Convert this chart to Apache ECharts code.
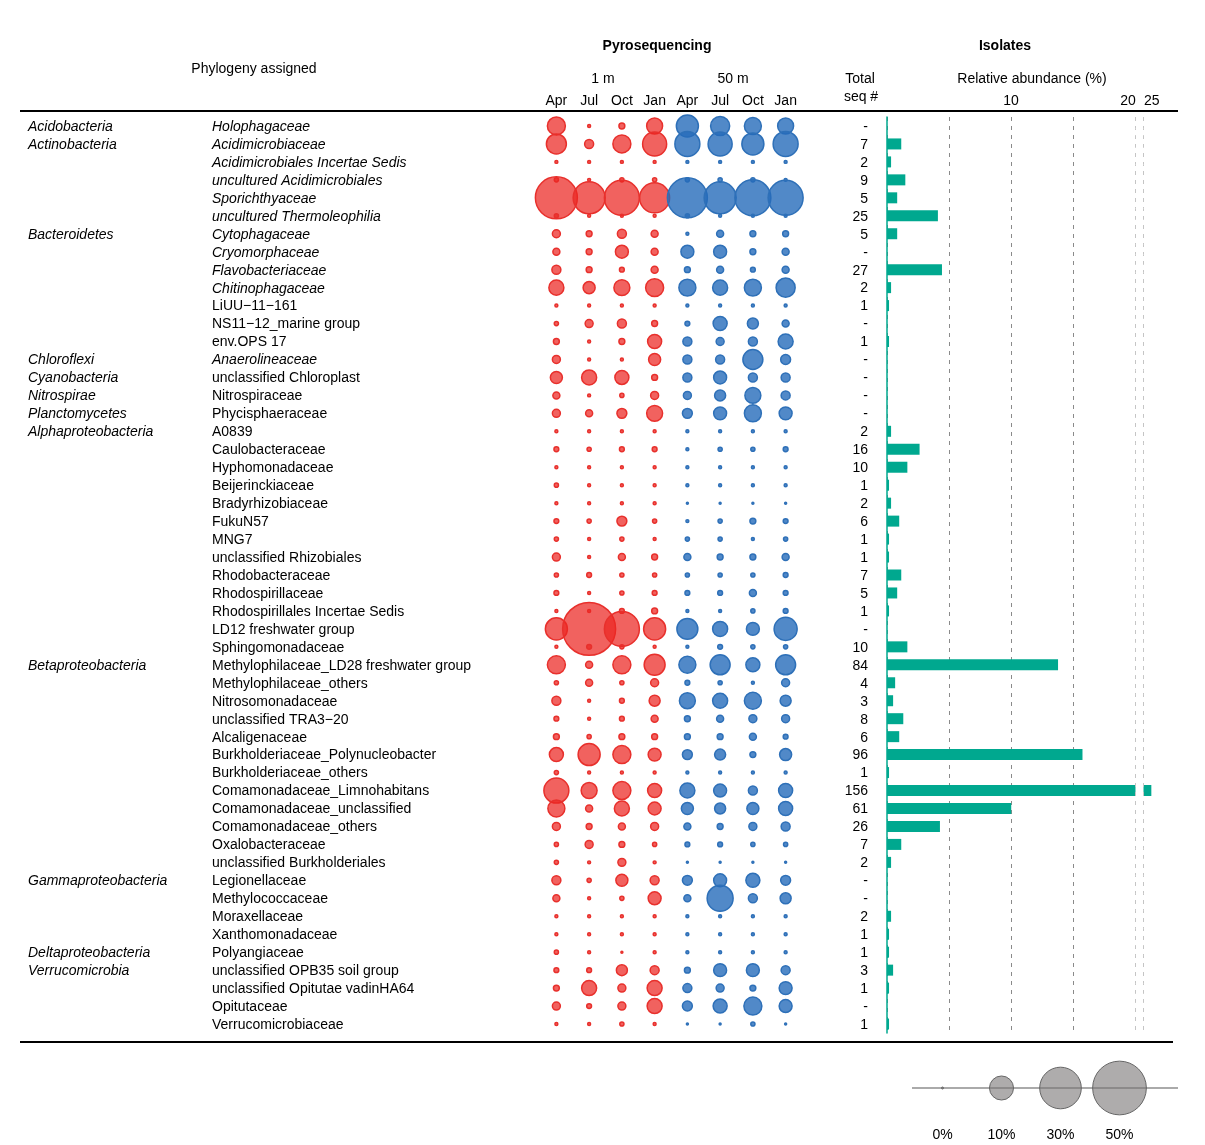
<!DOCTYPE html>
<html><head><meta charset="utf-8">
<script src="https://cdn.jsdelivr.net/npm/echarts@6.0.0/dist/echarts.min.js"></script>
<style>html,body{margin:0;padding:0;background:#fff}#c{width:1205px;height:1145px}</style>
</head><body><div id="c"></div><script>
// ---------- DATA ----------
const families = ['Holophagaceae','Acidimicrobiaceae','Acidimicrobiales Incertae Sedis','uncultured Acidimicrobiales','Sporichthyaceae','uncultured Thermoleophilia','Cytophagaceae','Cryomorphaceae','Flavobacteriaceae','Chitinophagaceae','LiUU\u221211\u2212161','NS11\u221212_marine group','env.OPS 17','Anaerolineaceae','unclassified Chloroplast','Nitrospiraceae','Phycisphaeraceae','A0839','Caulobacteraceae','Hyphomonadaceae','Beijerinckiaceae','Bradyrhizobiaceae','FukuN57','MNG7','unclassified Rhizobiales','Rhodobacteraceae','Rhodospirillaceae','Rhodospirillales Incertae Sedis','LD12 freshwater group','Sphingomonadaceae','Methylophilaceae_LD28 freshwater group','Methylophilaceae_others','Nitrosomonadaceae','unclassified TRA3\u221220','Alcaligenaceae','Burkholderiaceae_Polynucleobacter','Burkholderiaceae_others','Comamonadaceae_Limnohabitans','Comamonadaceae_unclassified','Comamonadaceae_others','Oxalobacteraceae','unclassified Burkholderiales','Legionellaceae','Methylococcaceae','Moraxellaceae','Xanthomonadaceae','Polyangiaceae','unclassified OPB35 soil group','unclassified Opitutae vadinHA64','Opitutaceae','Verrucomicrobiaceae'];
const phyla = ['Acidobacteria','Actinobacteria','','','','','Bacteroidetes','','','','','','','Chloroflexi','Cyanobacteria','Nitrospirae','Planctomycetes','Alphaproteobacteria','','','','','','','','','','','','','Betaproteobacteria','','','','','','','','','','','','Gammaproteobacteria','','','','Deltaproteobacteria','Verrucomicrobia','','',''];
const italicFamilies = ['Holophagaceae','Acidimicrobiaceae','Acidimicrobiales Incertae Sedis','uncultured Acidimicrobiales','Sporichthyaceae','uncultured Thermoleophilia','Cytophagaceae','Cryomorphaceae','Flavobacteriaceae','Chitinophagaceae','Anaerolineaceae'];
const months = ['Apr','Jul','Oct','Jan'];
const depths = ['1 m','50 m'];
// relative abundance (%) in pyrosequencing libraries
const apr1m = [5.6,6.9,0.15,0.3,30.5,0.3,1.1,0.85,1.4,3.9,0.15,0.3,0.6,1.1,2.5,0.85,1.1,0.15,0.4,0.15,0.3,0.15,0.4,0.3,1.1,0.3,0.4,0.15,8.4,0.15,5.6,0.3,1.4,0.4,0.6,3.4,0.3,10.8,5.0,1.1,0.3,0.3,1.4,0.85,0.15,0.15,0.3,0.4,0.6,1.1,0.15];
const jul1m = [0.15,1.4,0.15,0.15,17.7,0.15,0.6,0.6,0.6,2.5,0.15,1.1,0.15,0.15,3.9,0.15,0.85,0.15,0.3,0.15,0.15,0.15,0.3,0.15,0.15,0.4,0.15,0.15,48.6,0.4,0.85,0.85,0.15,0.15,0.3,8.4,0.15,4.4,0.85,0.6,1.1,0.15,0.3,0.15,0.15,0.15,0.15,0.4,3.9,0.4,0.15];
const oct1m = [0.6,5.6,0.15,0.3,21.2,0.15,1.4,2.9,0.4,4.4,0.15,1.4,0.6,0.15,3.4,0.3,1.7,0.15,0.4,0.15,0.15,0.15,1.7,0.3,0.85,0.3,0.3,0.4,21.2,0.3,5.6,0.3,0.4,0.4,0.6,5.6,0.15,5.6,3.9,0.85,0.6,1.1,2.5,0.3,0.15,0.15,0.05,2.1,1.1,1.1,0.3];
const jan1m = [4.4,10,0.15,0.3,15.6,0.15,0.85,0.85,0.85,5.6,0.15,0.6,3.4,2.5,0.6,1.1,4.4,0.15,0.4,0.15,0.15,0.15,0.3,0.15,0.6,0.3,0.4,0.6,8.4,0.15,7.6,1.1,2.1,0.85,0.6,2.9,0.15,3.4,2.9,1.1,0.3,0.15,1.4,2.9,0.15,0.15,0.15,1.4,3.9,3.9,0.15];
const apr50m = [8.4,10.8,0.15,0.3,27.7,0.3,0.15,2.9,0.6,5.0,0.15,0.4,1.4,1.4,1.4,1.1,1.7,0.15,0.15,0.15,0.15,0.05,0.15,0.3,0.85,0.3,0.4,0.15,7.6,0.15,5.0,0.4,4.4,0.6,0.6,1.7,0.15,3.9,2.5,0.85,0.4,0.05,1.7,0.85,0.15,0.15,0.15,0.6,1.4,1.7,0.05];
const jul50m = [6.3,10,0.15,0.3,17.7,0.15,0.85,2.9,0.85,3.9,0.15,3.4,1.1,1.4,2.9,2.1,2.9,0.15,0.3,0.15,0.15,0.05,0.3,0.3,0.6,0.3,0.4,0.15,3.9,0.4,6.9,0.3,3.9,0.85,0.6,2.1,0.15,2.9,2.1,0.6,0.4,0.05,2.9,11.7,0.15,0.15,0.15,2.9,1.1,3.4,0.05];
const oct50m = [5.0,8.4,0.15,0.3,22.4,0.15,0.6,0.6,0.4,5.0,0.15,2.1,1.4,6.9,1.4,4.4,5.0,0.15,0.3,0.15,0.15,0.05,0.6,0.15,0.6,0.3,0.85,0.3,2.9,0.3,3.4,0.15,5.0,1.1,0.85,0.6,0.15,1.4,2.5,1.1,0.3,0.05,3.4,1.4,0.15,0.15,0.15,2.9,0.6,5.6,0.3];
const jan50m = [4.4,10.8,0.15,0.15,21.2,0.15,0.6,0.85,0.85,6.3,0.15,0.85,3.9,1.7,1.4,1.4,2.9,0.15,0.4,0.15,0.15,0.05,0.4,0.3,0.85,0.4,0.4,0.4,9.2,0.3,6.9,1.1,2.1,1.1,0.4,2.5,0.15,3.4,3.4,1.4,0.3,0.05,1.7,2.1,0.15,0.15,0.15,1.4,2.9,2.9,0.05];
// isolates: total sequence number per family (null = '-')
const isolateCounts = [null,7,2,9,5,25,5,null,27,2,1,null,1,null,null,null,null,2,16,10,1,2,6,1,1,7,5,1,null,10,84,4,3,8,6,96,1,156,61,26,7,2,null,null,2,1,1,3,1,null,1];
const abundanceTicks = [10,20,25];
const legendPct = [0,10,30,50];

// ---------- BUILD ----------
const FONT = 'Liberation Sans, Arial, sans-serif';
const sz = v => Math.max(2, 7.6 * Math.sqrt(v));
const samples = [];
depths.forEach(d => months.forEach(m => samples.push(m + '|' + d)));
const redCols = [apr1m, jul1m, oct1m, jan1m];
const blueCols = [apr50m, jul50m, oct50m, jan50m];
function bubbles(cols, off) {
  const out = [];
  families.forEach((f, r) => cols.forEach((col, c) => out.push([c + off, r, col[r]])));
  return out;
}
const totalIsolates = isolateCounts.reduce((a, b) => a + (b || 0), 0);
const relAbund = isolateCounts.map(c => c == null ? null : c / totalIsolates * 100);

const chart = echarts.init(document.getElementById('c'), null, {renderer: 'canvas'});
const txt = (x, y, t, extra) => ({type: 'text', x, y: y + 1, style: Object.assign({text: t, font: '14px ' + FONT, fill: '#000', textAlign: 'center', textVerticalAlign: 'middle'}, extra || {})});
const richBase = {fontSize: 14, fontFamily: FONT, color: '#000'};

chart.setOption({
  animation: false,
  backgroundColor: '#fff',
  textStyle: {fontFamily: FONT},
  grid: [
    {left: 540, top: 117, width: 262, height: 916, outerBoundsMode: 'none', containLabel: false},
    {left: 887, top: 117, width: 281.5, height: 916, outerBoundsMode: 'none', containLabel: false},
    {left: 913, top: 1075, width: 236, height: 26, outerBoundsMode: 'none', containLabel: false}
  ],
  xAxis: [
    {gridIndex: 0, type: 'category', position: 'top', data: samples,
     axisLine: {show: false}, axisTick: {show: false},
     axisLabel: {interval: 0, margin: 9, fontSize: 14, color: '#000', fontFamily: FONT, formatter: v => v.split('|')[0]}},
    {gridIndex: 1, type: 'value', position: 'top', min: 0, max: 27, interval: 5,
     breaks: [{start: 20, end: 25, gap: 0.7}],
     breakArea: {show: true, expandOnClick: false, zigzagAmplitude: 0, zigzagZ: 100,
       itemStyle: {color: '#fff', borderColor: '#8a8a8a', borderWidth: 1, borderType: [4, 5], opacity: 1}},
     axisLine: {show: false}, axisTick: {show: false},
     splitLine: {show: true, showMaxLine: false, lineStyle: {color: '#8a8a8a', width: 1, type: [4, 5]}},
     axisLabel: {margin: 9, fontSize: 14, color: '#000', fontFamily: FONT, hideOverlap: false,
       formatter: v => {
         if (!abundanceTicks.includes(v)) return '';
         if (v === 20) return '{a|' + v + '}';
         if (v === 25) return '{b|' + v + '}';
         return String(v);
       },
       rich: {a: Object.assign({padding: [0, 14, 0, 0]}, richBase),
              b: Object.assign({padding: [0, 0, 0, 16]}, richBase)}}},
    {gridIndex: 2, type: 'category', data: legendPct.map(p => p + '%'),
     axisLine: {show: false}, axisTick: {show: false},
     axisLabel: {margin: 27, fontSize: 14, color: '#000', fontFamily: FONT}}
  ],
  yAxis: [
    {gridIndex: 0, type: 'category', position: 'left', inverse: true, data: families,
     axisLine: {show: false}, axisTick: {show: false},
     axisLabel: {interval: 0, align: 'left', margin: 328, fontSize: 14, color: '#000', fontFamily: FONT, padding: [2, 0, 0, 0],
       formatter: v => (italicFamilies.includes(v) ? '{i|' : '{n|') + v + '}',
       rich: {i: Object.assign({fontStyle: 'italic'}, richBase), n: richBase}}},
    {gridIndex: 0, type: 'category', position: 'left', offset: 0, inverse: true, data: families,
     axisLine: {show: false}, axisTick: {show: false},
     axisLabel: {interval: 0, align: 'left', margin: 512, fontSize: 14, color: '#000', fontFamily: FONT, padding: [2, 0, 0, 0],
       formatter: (v, i) => phyla[i] ? '{p|' + phyla[i] + '}' : '',
       rich: {p: Object.assign({fontStyle: 'italic'}, richBase)}}},
    {gridIndex: 1, type: 'category', position: 'left', inverse: true, data: families,
     axisLine: {show: true, lineStyle: {color: '#00a88f', width: 1.5}}, axisTick: {show: false},
     axisLabel: {interval: 0, align: 'right', margin: 19, fontSize: 14, color: '#000', fontFamily: FONT, padding: [2, 0, 0, 0],
       formatter: (v, i) => '{n|' + (isolateCounts[i] == null ? '-' : String(isolateCounts[i])) + '}',
       rich: {n: richBase}}},
    {gridIndex: 2, type: 'value', min: -1, max: 1, show: false}
  ],
  series: [
    {type: 'scatter', xAxisIndex: 0, yAxisIndex: 0, data: bubbles(redCols, 0),
     symbolSize: d => sz(d[2]),
     itemStyle: {color: 'rgba(236,38,33,0.72)', borderColor: '#e8302c', borderWidth: 1.5, opacity: 1}},
    {type: 'scatter', xAxisIndex: 0, yAxisIndex: 0, data: bubbles(blueCols, 4),
     symbolSize: d => sz(d[2]),
     itemStyle: {color: 'rgba(38,108,186,0.8)', borderColor: '#2e70b8', borderWidth: 1.5, opacity: 1}},
    {type: 'bar', xAxisIndex: 1, yAxisIndex: 2, data: relAbund, barWidth: 11,
     itemStyle: {color: '#00a88f'}},
    {type: 'scatter', xAxisIndex: 2, yAxisIndex: 3, data: legendPct.map((p, i) => [i, 0, p]),
     symbolSize: d => sz(d[2]), z: 3,
     itemStyle: {color: 'rgba(120,116,116,0.6)', borderColor: '#666', borderWidth: 1, opacity: 1}}
  ],
  graphic: [
    txt(254, 68, 'Phylogeny assigned'),
    txt(657, 45, 'Pyrosequencing', {font: 'bold 14px ' + FONT}),
    txt(1005, 45, 'Isolates', {font: 'bold 14px ' + FONT}),
    txt(603, 78, depths[0]),
    txt(733, 78, depths[1]),
    txt(860, 78, 'Total'),
    txt(861, 96, 'seq #'),
    txt(1032, 78, 'Relative abundance (%)'),
    {type: 'line', shape: {x1: 20, y1: 111, x2: 1178, y2: 111}, style: {stroke: '#000', lineWidth: 2}},
    {type: 'line', shape: {x1: 20, y1: 1042, x2: 1173, y2: 1042}, style: {stroke: '#000', lineWidth: 2}},
    {type: 'line', z: 1, shape: {x1: 912, y1: 1088, x2: 1178, y2: 1088}, style: {stroke: '#aaa', lineWidth: 2}}
  ]
});
</script></body></html>
